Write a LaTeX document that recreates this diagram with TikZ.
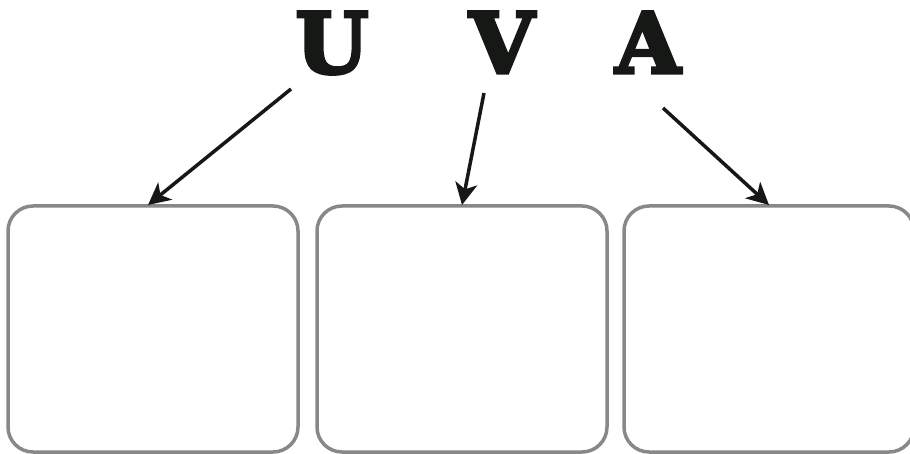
\documentclass[tikz,border=0pt]{standalone}
\usepackage{fontspec}
\newfontfamily\letterfont[FakeBold=4]{DejaVu Serif}
\usetikzlibrary{arrows.meta}
\definecolor{boxgray}{HTML}{888888}
\definecolor{inkblack}{HTML}{161816}
\begin{document}
\begin{tikzpicture}[x=1pt,y=-1pt,
  letter/.style={anchor=base,inner sep=0pt,text=inkblack,font=\letterfont\bfseries\fontsize{84}{84}\selectfont},
  card/.style={draw=boxgray,line width=3.5pt,rounded corners=25pt,minimum width=290pt,minimum height=246pt,inner sep=0pt,fill=white},
  pointer/.style={draw=inkblack,line width=3.5pt,-{Stealth[length=22pt,width=22pt,inset=6pt]}}]
\useasboundingbox (0,0) rectangle (910,454);
\node[card] (b1) at (153,329) {};
\node[card] (b2) at (462,329) {};
\node[card] (b3) at (769,329) {};
\node[letter] (u) at (332,73) {U};
\node[letter] (v) at (502,73) {V};
\node[letter] (a) at (648,73) {A};
\coordinate (s1) at (291,89);
\coordinate (s2) at (484,93);
\coordinate (s3) at (663,108);
\coordinate (e1) at (148,205);
\coordinate (e2) at (462,205);
\coordinate (e3) at (769,205);
\draw[pointer] (s1) -- (e1);
\draw[pointer] (s2) -- (e2);
\draw[pointer] (s3) -- (e3);
\end{tikzpicture}
\end{document}
